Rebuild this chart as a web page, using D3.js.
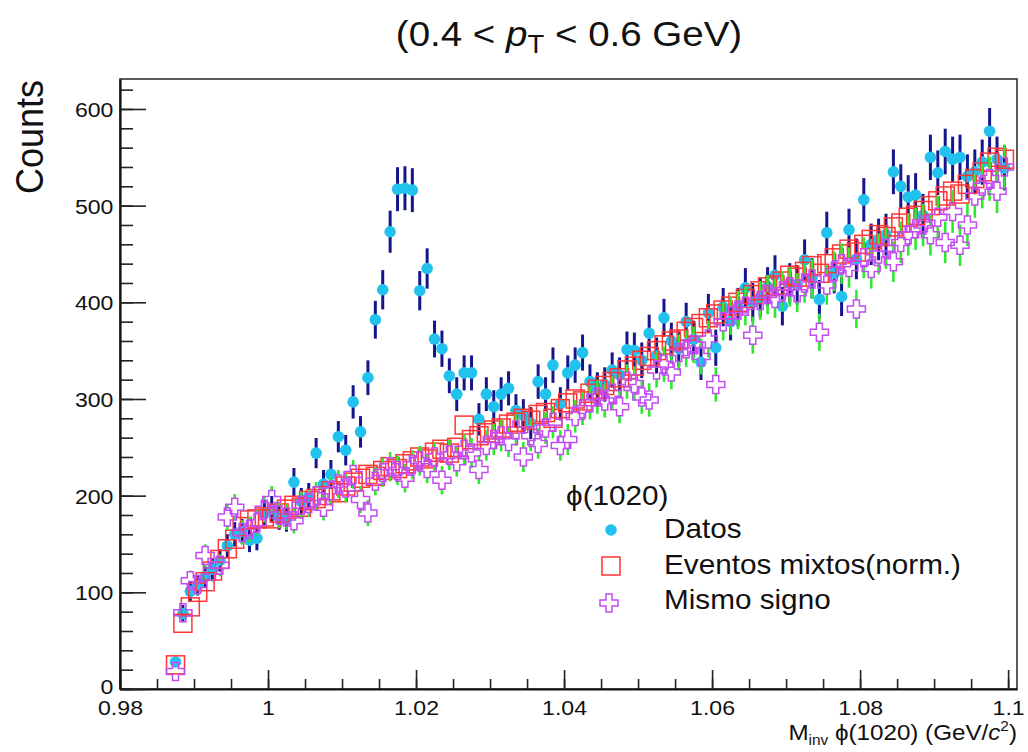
<!DOCTYPE html>
<html>
<head>
<meta charset="utf-8">
<script src="https://cdn.jsdelivr.net/npm/d3@7"></script>
<style>
  body { margin: 0; background: #fff; }
  text { font-family: "Liberation Sans", Arial, Helvetica, sans-serif; fill: #111; }
</style>
</head>
<body>
<div id="vis"></div>
<script>
// bins of 0.001 GeV/c^2, first filled bin centred at 0.9875
const binFirst = 0.9875;
const binWidth = 0.001;
const nBins = 113;

// Datos (cyan circles)
const datos = [
  28, 78, 101, 107, 116, 124, 133, 148, 160, 163,
  154, 156, 182, 186, 178, 176, 214, 194, 199, 244,
  212, 222, 261, 247, 297, 266, 322, 382, 413, 473,
  517, 518, 516, 412, 435, 362, 352, 324, 305, 327,
  327, 279, 305, 292, 305, 311, 288, 283, 275, 318,
  305, 335, 295, 327, 335, 348, 318, 310, 315, 330,
  325, 351, 350, 340, 368, 345, 384, 360, 352, 380,
  362, 338, 389, 353, 395, 380, 395, 415, 400, 405,
  416, 428, 396, 420, 418, 444, 425, 403, 472, 430,
  406, 475, 445, 506, 460, 465, 470, 535, 520, 509,
  511, 490, 550, 534, 556, 548, 550, 530, 535, 545,
  577, 548, 539
];

// Eventos mixtos (norm.) (red open squares)
const mixtos = [
  25, 68, 85, 100, 111, 122, 134, 145, 155, 168,
  175, 176, 178, 176, 182, 186, 190, 188, 195, 197,
  200, 205, 203, 210, 214, 218, 222, 220, 226, 230,
  228, 233, 236, 240, 238, 245, 248, 244, 250, 273,
  258, 262, 265, 268, 270, 274, 276, 280, 278, 284,
  286, 280, 290, 296, 300, 298, 306, 310, 314, 318,
  322, 330, 334, 340, 344, 350, 356, 360, 362, 370,
  374, 378, 384, 388, 392, 396, 400, 404, 408, 412,
  416, 418, 422, 428, 426, 432, 438, 430, 440, 446,
  450, 455, 452, 460, 465, 470, 468, 478, 482, 488,
  490, 495, 500, 505, 510, 515, 512, 522, 528, 535,
  545, 550, 548
];

// Mismo signo (violet open crosses)
const mismo = [
  18, 79, 112, 108, 138, 122, 128, 178, 188, 162,
  165, 172, 186, 196, 180, 178, 174, 190, 192, 200,
  188, 205, 212, 208, 222, 196, 182, 215, 224, 230,
  226, 218, 232, 236, 228, 240, 216, 242, 235, 248,
  244, 227, 252, 258, 262, 256, 268, 240, 262, 254,
  270, 276, 252, 258, 282, 290, 296, 302, 298, 306,
  292, 318, 316, 302, 299, 330, 336, 328, 348, 352,
  356, 344, 362, 315, 380, 386, 392, 396, 366, 402,
  408, 404, 412, 416, 410, 420, 424, 369, 418, 432,
  440, 436, 393, 446, 435, 450, 456, 442, 462, 470,
  476, 480, 470, 488, 462, 494, 459, 480, 510, 520,
  528, 515, 540
];

const xMajorTicks = [0.98, 1.0, 1.02, 1.04, 1.06, 1.08, 1.1];
const xTickLabels = ["0.98", "1", "1.02", "1.04", "1.06", "1.08", "1.1"];
const yMajorTicks = [0, 100, 200, 300, 400, 500, 600];
const yTickLabels = ["0", "100", "200", "300", "400", "500", "600"];

const legendHeader = "\u03d5(1020)";
const legendLabels = ["Datos", "Eventos mixtos(norm.)", "Mismo signo"];

const colDatos = "#22c2ee";
const colDatosErr = "#16168c";
const colMixtos = "#ff3636";
const colMismo = "#c24cf2";
const colMismoErr = "#2ee82e";

const width = 1028;
const height = 752;
const SX = 1.1; // the picture is a little wider than tall, text too

function crossPath(s) {
  const h = s / 2, w = s / 6;
  return `M${-w},${-h}L${w},${-h}L${w},${-w}L${h},${-w}L${h},${w}L${w},${w}L${w},${h}L${-w},${h}L${-w},${w}L${-h},${w}L${-h},${-w}L${-w},${-w}Z`;
}

function stretchText(g, x, y, size, anchor) {
  return g.append("text")
    .attr("transform", `translate(${x},${y}) scale(${SX},1)`)
    .attr("text-anchor", anchor)
    .style("font-size", size + "px");
}

function drawChart() {
  const svg = d3.create("svg").attr("width", width).attr("height", height)
    .attr("viewBox", [0, 0, width, height]);

  const x = d3.scaleLinear().domain([0.98, 1.1012]).range([120, 1017]);
  const y = d3.scaleLinear().domain([0, 631]).range([689, 79]);

  const centers = d3.range(nBins).map(i => binFirst + i * binWidth);

  // frame
  svg.append("rect").attr("x", 120).attr("y", 79).attr("width", 897).attr("height", 610)
    .attr("fill", "none").attr("stroke", "#333").attr("stroke-width", 1.6);

  // minor ticks
  svg.append("g").attr("transform", "translate(0,689)")
    .call(d3.axisBottom(x).tickValues(d3.range(0.98, 1.1001, 0.005)).tickSize(-10).tickSizeOuter(0).tickFormat(""))
    .call(g => g.select(".domain").remove());
  svg.append("g").attr("transform", "translate(120,0)")
    .call(d3.axisLeft(y).tickValues(d3.range(0, 621, 20)).tickSize(-13).tickSizeOuter(0).tickFormat(""))
    .call(g => g.select(".domain").remove());

  // major ticks + labels
  const gx = svg.append("g").attr("transform", "translate(0,689)")
    .call(d3.axisBottom(x).tickValues(xMajorTicks).tickSize(-19).tickSizeOuter(0)
      .tickPadding(11).tickFormat((d, i) => xTickLabels[i]));
  const gy = svg.append("g").attr("transform", "translate(120,0)")
    .call(d3.axisLeft(y).tickValues(yMajorTicks).tickSize(-26).tickSizeOuter(0)
      .tickPadding(6).tickFormat((d, i) => yTickLabels[i]));
  [gx, gy].forEach(g => {
    g.selectAll(".domain").attr("stroke", "#111").attr("stroke-width", 2.2);
    g.selectAll("text").style("font-size", "21px").attr("fill", "#111")
      .attr("transform", `scale(${SX},1)`)
      .style("font-family", '"Liberation Sans", Arial, sans-serif');
  });
  gy.selectAll("text").attr("dy", "0.36em");
  gy.selectAll("text").filter((d, i) => i === 0).attr("dy", "0.2em");
  svg.selectAll(".tick line").attr("stroke", "#222").attr("stroke-width", 1.6);

  const plot = svg.append("g");

  // Datos: error bars then circles
  plot.append("g").selectAll("line").data(datos).join("line")
    .attr("x1", (d, i) => x(centers[i])).attr("x2", (d, i) => x(centers[i]))
    .attr("y1", d => y(d + Math.sqrt(d))).attr("y2", d => y(d - Math.sqrt(d)))
    .attr("stroke", colDatosErr).attr("stroke-width", 3);
  plot.append("g").selectAll("circle").data(datos).join("circle")
    .attr("cx", (d, i) => x(centers[i])).attr("cy", d => y(d))
    .attr("r", 5.8).attr("fill", colDatos);

  // Eventos mixtos
  const sq = 18;
  plot.append("g").selectAll("rect").data(mixtos).join("rect")
    .attr("x", (d, i) => x(centers[i]) - sq / 2).attr("y", d => y(d) - sq / 2)
    .attr("width", sq).attr("height", sq)
    .attr("fill", "none").attr("stroke", colMixtos).attr("stroke-width", 1.5);

  // Mismo signo: error bars outside the marker, then crosses
  const cs = 18;
  const gm = plot.append("g");
  gm.selectAll("line.up").data(mismo).join("line").attr("class", "up")
    .attr("x1", (d, i) => x(centers[i])).attr("x2", (d, i) => x(centers[i]))
    .attr("y1", d => y(d) - cs / 2).attr("y2", d => Math.min(y(d) - cs / 2, y(d + Math.sqrt(d))))
    .attr("stroke", colMismoErr).attr("stroke-width", 2.6);
  gm.selectAll("line.dn").data(mismo).join("line").attr("class", "dn")
    .attr("x1", (d, i) => x(centers[i])).attr("x2", (d, i) => x(centers[i]))
    .attr("y1", d => y(d) + cs / 2).attr("y2", d => Math.max(y(d) + cs / 2, y(d - Math.sqrt(d))))
    .attr("stroke", colMismoErr).attr("stroke-width", 2.6);
  gm.selectAll("path").data(mismo).join("path")
    .attr("transform", (d, i) => `translate(${x(centers[i])},${y(d)})`)
    .attr("d", crossPath(cs))
    .attr("fill", "none").attr("stroke", colMismo).attr("stroke-width", 1.5);

  // title
  const t = stretchText(svg, 569, 46, 35, "middle");
  t.append("tspan").text("(0.4 < ");
  t.append("tspan").text("p").style("font-style", "italic");
  t.append("tspan").text("T").style("font-size", "25px").attr("dy", 7);
  t.append("tspan").text(" < 0.6 GeV)").attr("dy", -7);

  // y title
  svg.append("text").text("Counts")
    .attr("transform", `translate(43,80) scale(${SX},1) rotate(-90)`)
    .attr("text-anchor", "end").style("font-size", "36px");

  // x title
  const xt = stretchText(svg, 1017, 740, 22, "end");
  xt.append("tspan").text("M");
  xt.append("tspan").text("inv").style("font-size", "14px").attr("dy", 5);
  xt.append("tspan").text(" \u03d5(1020) (GeV/").attr("dy", -5);
  xt.append("tspan").text("c").style("font-style", "italic");
  xt.append("tspan").text("2").style("font-size", "14px").attr("dy", -9);
  xt.append("tspan").text(")").attr("dy", 9);

  // legend
  const lg = svg.append("g");
  stretchText(lg, 566, 505, 27, "start").text(legendHeader);
  const rows = [538, 574, 609];
  legendLabels.forEach((lab, i) => {
    stretchText(lg, 664, rows[i], 27, "start").text(lab);
  });
  lg.append("circle").attr("cx", 611).attr("cy", rows[0] - 8).attr("r", 5.8).attr("fill", colDatos);
  lg.append("rect").attr("x", 611 - sq / 2).attr("y", rows[1] - 8 - sq / 2).attr("width", sq).attr("height", sq)
    .attr("fill", "none").attr("stroke", colMixtos).attr("stroke-width", 1.5);
  lg.append("path").attr("transform", `translate(609,${rows[2] - 6})`).attr("d", crossPath(cs))
    .attr("fill", "none").attr("stroke", colMismo).attr("stroke-width", 1.5);

  document.getElementById("vis").appendChild(svg.node());
}

drawChart();
</script>
</body>
</html>
